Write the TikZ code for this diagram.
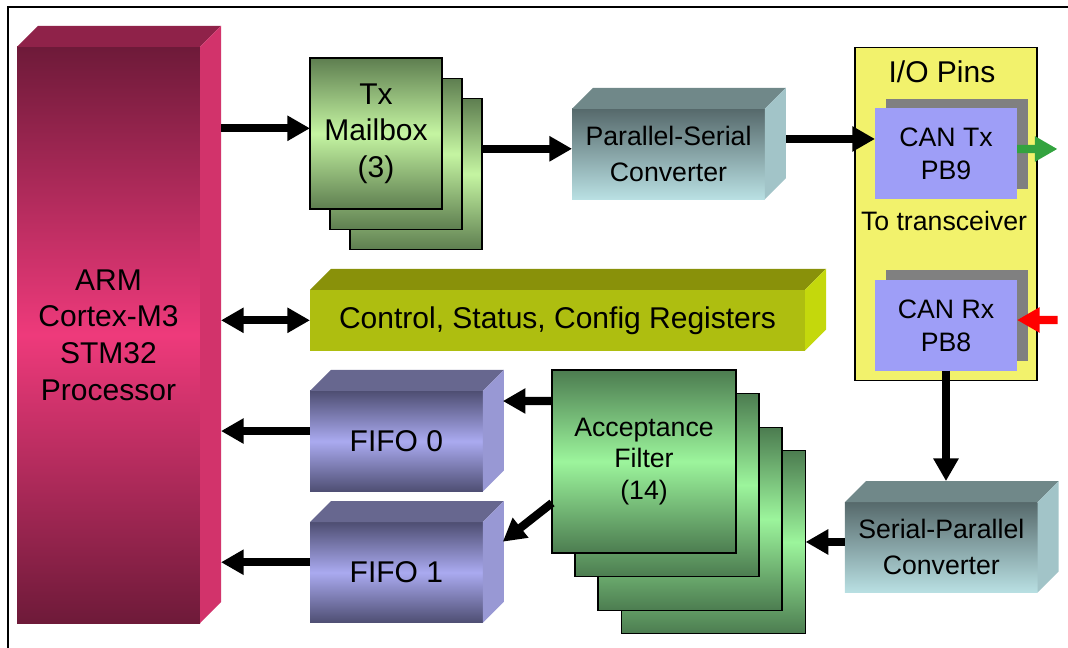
\documentclass[tikz,border=0pt]{standalone}
\usepackage{fontspec}
\setmainfont{Liberation Sans}
\usetikzlibrary{arrows.meta}

\definecolor{armdark}{HTML}{6E1A39}
\definecolor{armlight}{HTML}{EE3A7B}
\definecolor{armtop}{HTML}{8F2249}
\definecolor{armside}{HTML}{D2336B}
\definecolor{txdark}{HTML}{5E7E50}
\definecolor{txlight}{HTML}{C5F5A2}
\definecolor{afdark}{HTML}{4C7C50}
\definecolor{aflight}{HTML}{9CF59C}
\definecolor{convdark}{HTML}{56696B}
\definecolor{convlight}{HTML}{B9E0E3}
\definecolor{convtop}{HTML}{708889}
\definecolor{convside}{HTML}{A2C4C8}
\definecolor{fifodark}{HTML}{4E4E72}
\definecolor{fifolight}{HTML}{AAAAF0}
\definecolor{fifotop}{HTML}{67678F}
\definecolor{fifoside}{HTML}{9898D4}
\definecolor{regfront}{HTML}{AEBE10}
\definecolor{regtop}{HTML}{89910A}
\definecolor{regside}{HTML}{C4D80C}
\definecolor{pinbox}{HTML}{F2F26C}
\definecolor{canfront}{HTML}{9E9EF7}
\definecolor{pinout}{HTML}{33A33F}

\newcommand{\bigfont}{\fontsize{22.5}{27.5}\selectfont}
% top and side face of a box, 21px deep
\newcommand{\boxfaces}[3]{
    \fill[#2] (#1.north west) -- ++(21,-21) -- ([shift={(21,-21)}]#1.north east) -- (#1.north east) -- cycle;
    \fill[#3] (#1.north east) -- ++(21,-21) -- ([shift={(21,-21)}]#1.south east) -- (#1.south east) -- cycle;}

\tikzstyle{front} = [inner sep=0pt, outer sep=0pt, align=center]
\tikzstyle{mailbox} = [front, draw=black, line width=0.8pt, top color=txdark, bottom color=txdark,
    middle color=txlight, minimum width=99pt, minimum height=113.25pt, font=\bigfont]
\tikzstyle{filter} = [front, draw=black, line width=0.8pt, top color=afdark, bottom color=afdark,
    middle color=aflight, minimum width=138pt, minimum height=137.25pt, font=\fontsize{20}{23.6}\selectfont]
\tikzstyle{converter} = [front, top color=convdark, bottom color=convlight,
    minimum width=144.6pt, minimum height=67.8pt, font=\fontsize{20}{26.8}\selectfont]
\tikzstyle{fifo} = [front, top color=fifodark, bottom color=fifodark, middle color=fifolight,
    minimum width=129.6pt, minimum height=75.5pt, font=\bigfont]
\tikzstyle{pin} = [front, fill=canfront, minimum width=106.5pt, minimum height=67.8pt,
    font=\fontsize{20}{25}\selectfont]
\tikzstyle{pinshadow} = [front, fill=gray, minimum width=106.5pt, minimum height=67.8pt]
\tikzstyle{link} = [line width=6.2pt]

\begin{document}
\begin{tikzpicture}[x=0.75pt, y=-0.75pt, >={Triangle[length=17pt,width=18pt]}]
    \useasboundingbox (0,0) rectangle (1068,648);
    \draw[line width=1.5pt] (7.5,648) -- (7.5,7.5) -- (1068,7.5);

    % Place nodes
    \node [front, minimum width=137.25pt, minimum height=432pt, top color=armdark, bottom color=armdark,
        middle color=armlight, font=\bigfont] (arm) at (108.5,335) {ARM\\Cortex-M3\\STM32\\Processor};
    \boxfaces{arm}{armtop}{armside}

    \foreach \n/\x/\y in {tx3/416/174, tx2/396/154}
        \node [mailbox] (\n) at (\x,\y) {};
    \node [mailbox] (tx) at (376,133.5) {Tx\\Mailbox\\(3)};

    \node [converter] (ps) at (668.5,154) {Parallel-Serial\\Converter};
    \boxfaces{ps}{convtop}{convside}

    \node [front, fill=regfront, minimum width=371.25pt, minimum height=45.5pt, font=\bigfont]
        (ctrl) at (557.5,320.3) {Control, Status, Config Registers};
    \boxfaces{ctrl}{regtop}{regside}

    \node [front, draw=black, line width=0.8pt, fill=pinbox, minimum width=136.5pt, minimum height=250pt]
        (io) at (946,214.3) {};
    \node [anchor=base, font=\bigfont] (iopins) at (942,83) {I/O Pins};
    \node [pinshadow] (cantxsh) at (957,144) {};
    \node [pin] (cantx) at (946,153.5) {CAN Tx\\PB9};
    \node [anchor=base, font=\fontsize{20}{24}\selectfont] (trx) at (944,231) {To transceiver};
    \node [pinshadow] (canrxsh) at (957,315.5) {};
    \node [pin] (canrx) at (946,325.5) {CAN Rx\\PB8};
    \coordinate (txout) at (1057.5,149);
    \coordinate (rxin) at (1057.5,320);

    \node [fifo] (fifo0) at (396.4,441.3) {FIFO 0};
    \boxfaces{fifo0}{fifotop}{fifoside}
    \node [fifo] (fifo1) at (396.4,572.5) {FIFO 1};
    \boxfaces{fifo1}{fifotop}{fifoside}

    \foreach \n/\x/\y in {af4/713.6/542, af3/690/519, af2/667/485}
        \node [filter] (\n) at (\x,\y) {};
    \node [filter] (af) at (644,461.5) {Acceptance\\Filter\\(14)};

    \node [converter, font=\fontsize{20}{27}\selectfont] (sp) at (941.3,547.3) {Serial-Parallel\\Converter};
    \boxfaces{sp}{convtop}{convside}

    % Connections
    \draw[link,->] ([xshift=15.75pt,yshift=3.9pt]arm.east |- tx.west) -- ([yshift=3.9pt]tx.west);
    \draw[link,<->] ([xshift=15.75pt]arm.east |- ctrl.west) -- (ctrl.west);
    \draw[link,->] ([yshift=3.9pt]tx3.east |- ps.west) -- ([yshift=3.9pt]ps.west);
    \draw[link,->] ([xshift=16pt,yshift=10.9pt]ps.east |- cantx.west) -- ([yshift=10.9pt]cantx.west);
    \draw[link,->,pinout] ([yshift=3.4pt]cantx.east) -- (txout);
    \draw[link,->,red] (rxin) -- ([yshift=4.1pt]canrx.east);
    \draw[link,->] (canrx.south) -- ([yshift=15.75pt]canrx.south |- sp.north);
    \draw[link,->] ([yshift=4pt]sp.west) -- ([yshift=4pt]sp.west -| af4.east);
    \draw[link,->] ([yshift=45.4pt]af.west) -- ([xshift=15pt,yshift=30.2pt]fifo0.east);
    \draw[link,->] ([yshift=-31.1pt]af.west) -- ([xshift=15pt,yshift=23.1pt]fifo1.east);
    \draw[link,->] ([yshift=7.7pt]fifo0.west) -- ([xshift=15.75pt,yshift=7.7pt]arm.east |- fifo0.west);
    \draw[link,->] ([yshift=7.7pt]fifo1.west) -- ([xshift=15.75pt,yshift=7.7pt]arm.east |- fifo1.west);

\end{tikzpicture}
\end{document}
